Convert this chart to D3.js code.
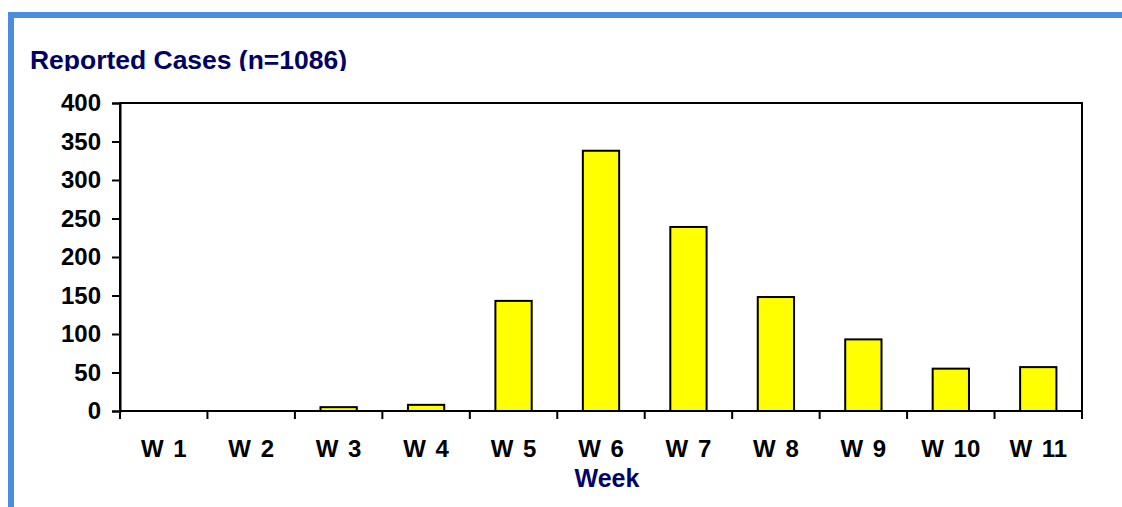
<!DOCTYPE html>
<html>
<head>
<meta charset="utf-8">
<script src="https://cdn.jsdelivr.net/npm/d3@7"></script>
<style>
  body { margin: 0; background: #fff; }
  svg { display: block; font-family: "Liberation Sans", Arial, sans-serif; }
</style>
</head>
<body>
<svg id="chart" width="1122" height="507"></svg>
<script>
// data
const weeks = ["W 1", "W 2", "W 3", "W 4", "W 5", "W 6", "W 7", "W 8", "W 9", "W 10", "W 11"];
const cases = [0, 0, 5, 8, 143, 338, 239, 148, 93, 55, 57];
const yTicks = [0, 50, 100, 150, 200, 250, 300, 350, 400];

const svg = d3.select("#chart");
const margin = { top: 103, right: 40, bottom: 96, left: 120 };
const width = 1122 - margin.left - margin.right;
const height = 507 - margin.top - margin.bottom;

// blue frame (top + left)
svg.append("rect").attr("x", 8).attr("y", 12).attr("width", 1114).attr("height", 6).attr("fill", "#4a8ddf");
svg.append("rect").attr("x", 8).attr("y", 12).attr("width", 6).attr("height", 495).attr("fill", "#4a8ddf");

// title, descenders cut off like the original
svg.append("clipPath").attr("id", "titleclip")
  .append("rect").attr("x", 0).attr("y", 30).attr("width", 600).attr("height", 41);
svg.append("text")
  .attr("x", 30).attr("y", 69)
  .attr("clip-path", "url(#titleclip)")
  .style("font-size", "25px").style("font-weight", 700).style("fill", "#000066")
  .attr("textLength", 317).attr("lengthAdjust", "spacingAndGlyphs")
  .text("Reported Cases (n=1086)");

const g = svg.append("g").attr("transform", `translate(${margin.left},${margin.top})`);

const x = d3.scaleBand().domain(weeks).range([0, width]).paddingInner(0.585).paddingOuter(0.2925);
const xb = d3.scaleBand().domain(weeks).range([0, width]);
const y = d3.scaleLinear().domain([0, 400]).range([height, 0]);

// plot frame
g.append("rect").attr("width", width).attr("height", height)
  .attr("fill", "none").attr("stroke", "#000").attr("stroke-width", 2);

g.selectAll(".bar")
  .data(weeks)
  .join("rect")
  .attr("class", "bar")
  .attr("x", d => x(d))
  .attr("width", x.bandwidth())
  .attr("y", (d, i) => y(cases[i]))
  .attr("height", (d, i) => height - y(cases[i]))
  .attr("fill", "#ffff00")
  .attr("stroke", "#000")
  .attr("stroke-width", 2);

// y axis
const yAxis = g.append("g")
  .call(d3.axisLeft(y).tickValues(yTicks).tickSize(8).tickPadding(11));
yAxis.select(".domain").attr("stroke-width", 2);
yAxis.selectAll(".tick line").attr("stroke-width", 2);
yAxis.selectAll("text")
  .style("font-size", "24px").style("font-weight", 700).style("fill", "#000")
  .style("font-family", "'Liberation Sans', Arial, sans-serif");

// x axis: ticks sit at band boundaries
const xAxis = g.append("g").attr("transform", `translate(0,${height})`);
xAxis.append("line").attr("x1", 0).attr("x2", width).attr("stroke", "#000").attr("stroke-width", 2);
xAxis.selectAll(".xt")
  .data(weeks.concat(["end"]))
  .join("line")
  .attr("class", "xt")
  .attr("x1", (d, i) => i < weeks.length ? xb(d) : width)
  .attr("x2", (d, i) => i < weeks.length ? xb(d) : width)
  .attr("y1", 0).attr("y2", 8)
  .attr("stroke", "#000").attr("stroke-width", 2);
xAxis.selectAll(".xl")
  .data(weeks)
  .join("text")
  .attr("class", "xl")
  .attr("x", d => xb(d) + xb.bandwidth() / 2)
  .attr("y", 46)
  .attr("text-anchor", "middle")
  .style("font-size", "24px").style("font-weight", 700)
  .style("word-spacing", "3px")
  .text(d => d);

svg.append("text")
  .attr("x", 607).attr("y", 487)
  .attr("text-anchor", "middle")
  .style("font-size", "25px").style("font-weight", 700).style("fill", "#000066")
  .text("Week");
</script>
</body>
</html>
